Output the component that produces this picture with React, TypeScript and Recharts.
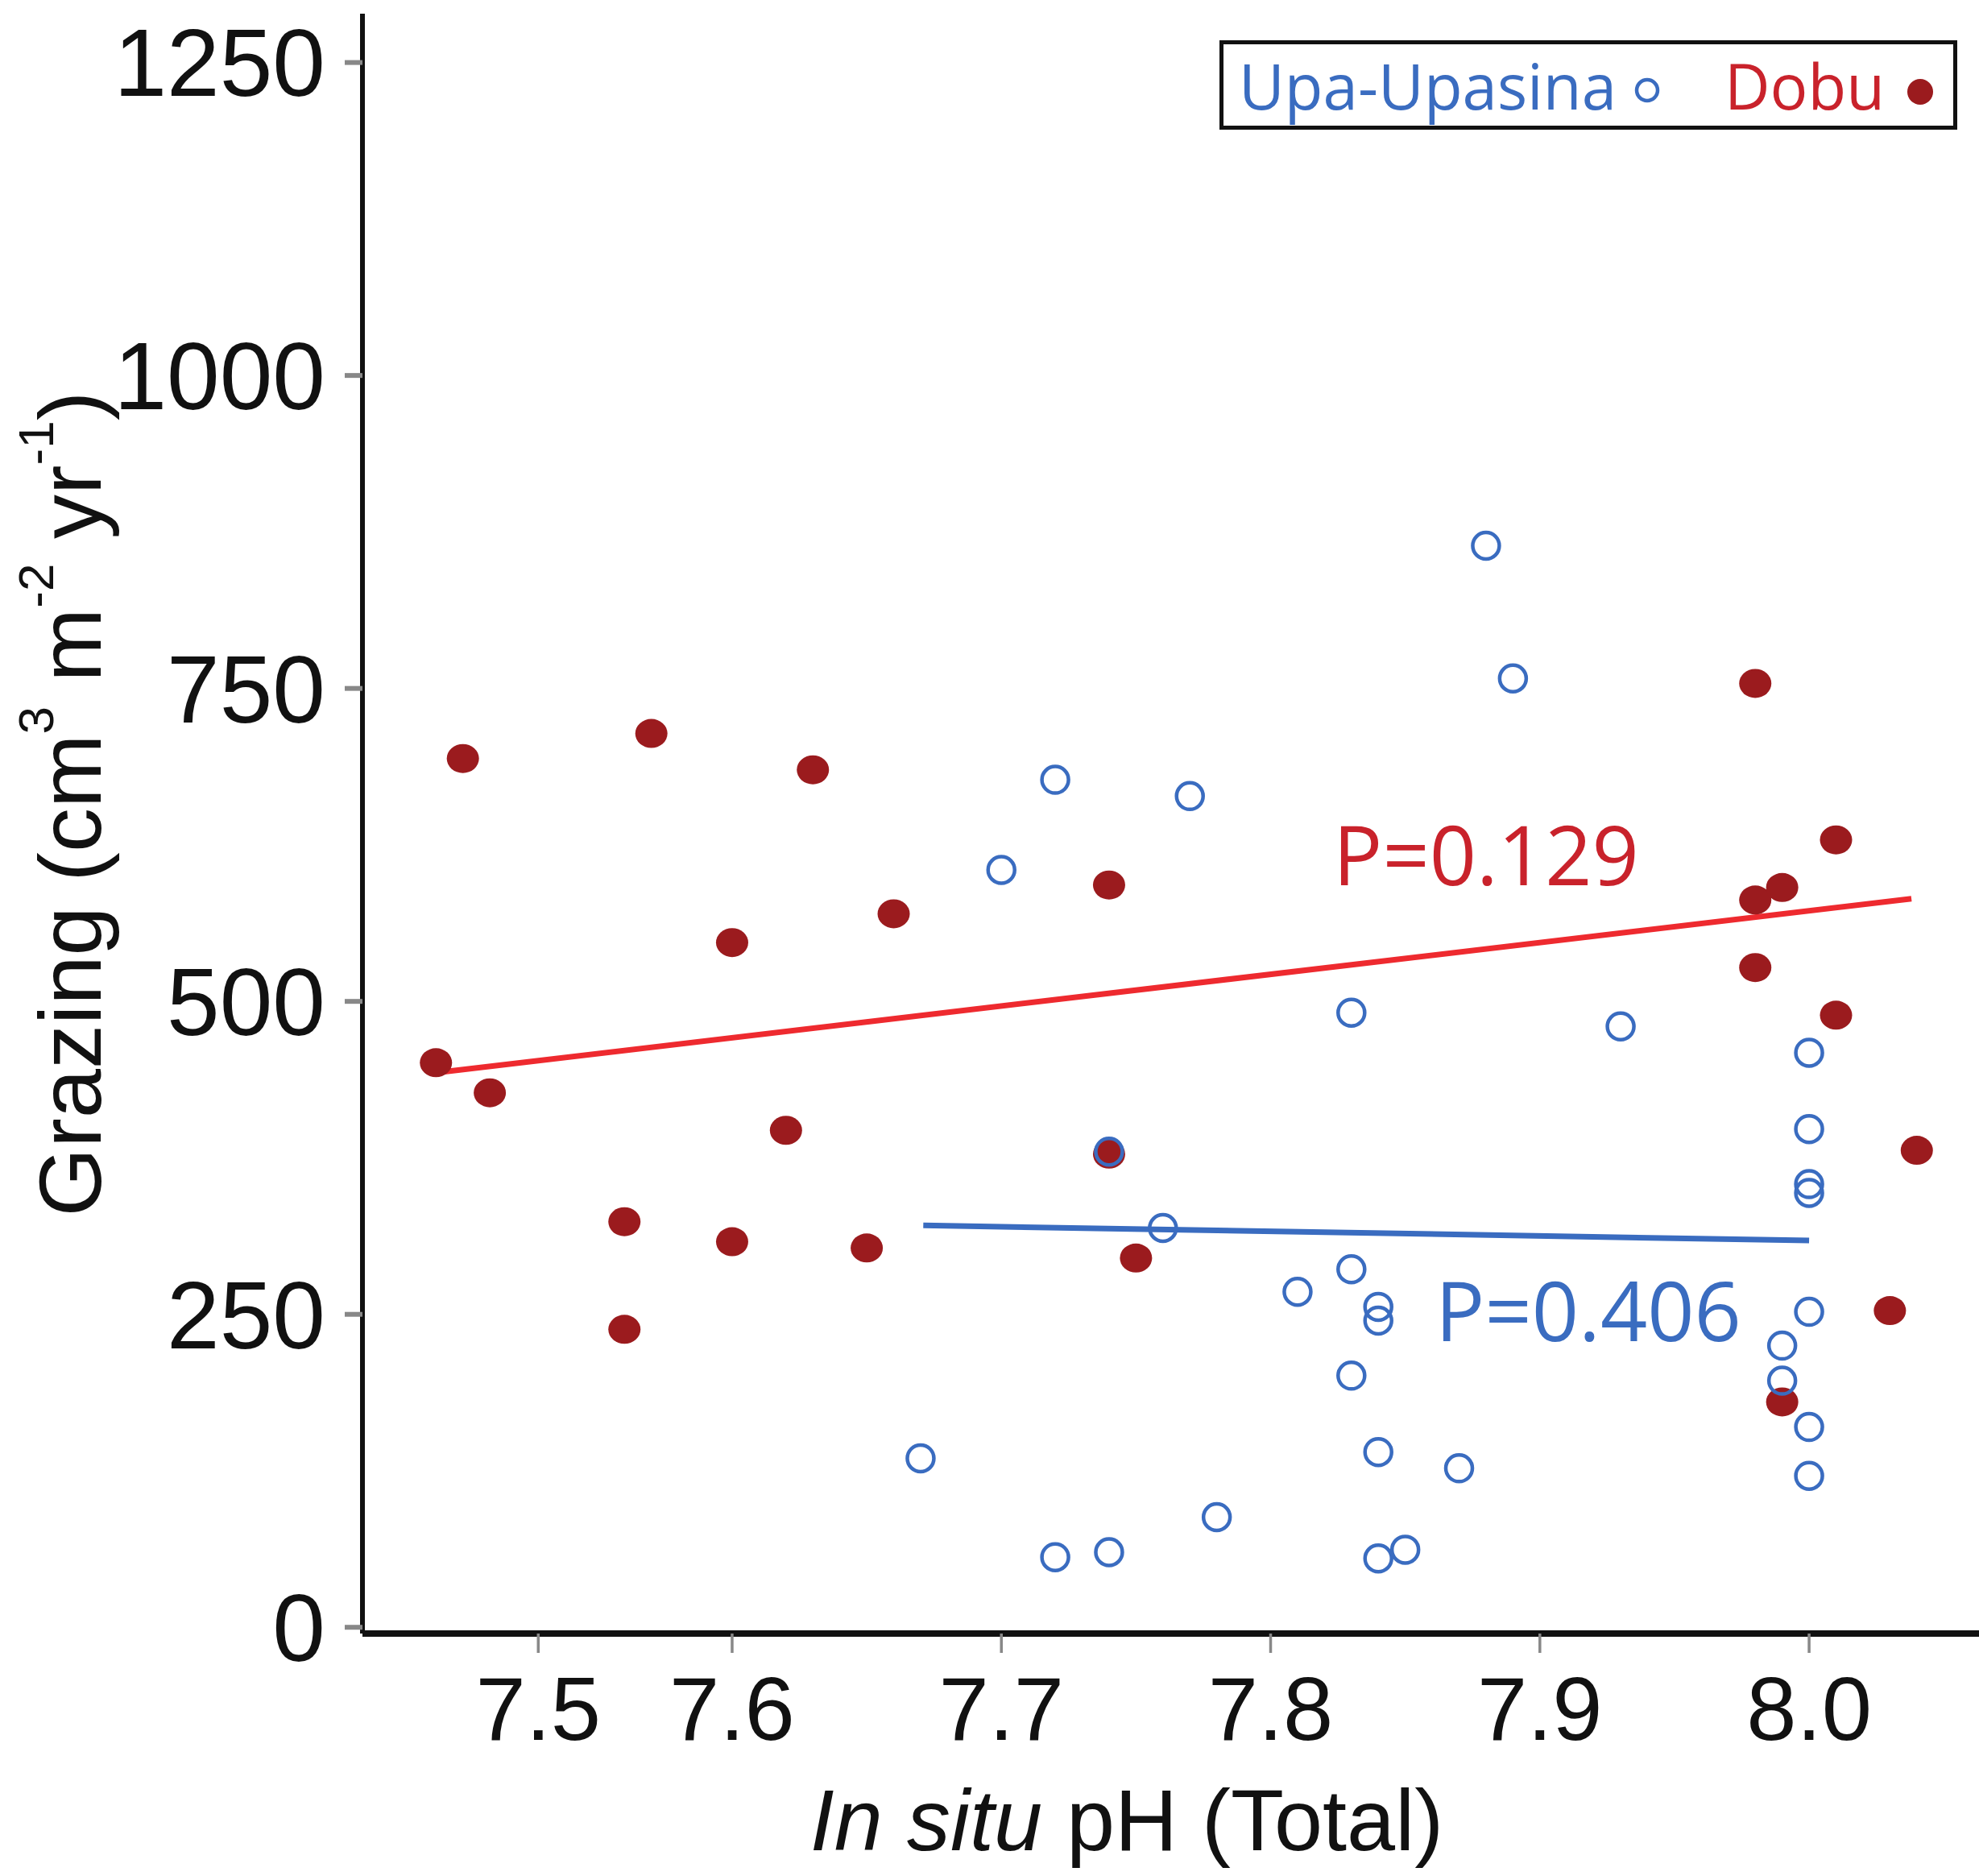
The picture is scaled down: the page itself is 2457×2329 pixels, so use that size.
import React from "react"
import { ComposedChart, Scatter, Line, XAxis, YAxis, Legend, ReferenceDot } from "recharts"

// Upa-Upasina (open circles)
const upaPh = [7.67, 7.72, 7.72, 7.70, 7.74, 7.74, 7.77, 7.76, 7.78, 7.81, 7.83, 7.83, 7.83, 7.84, 7.84, 7.84, 7.84, 7.85, 7.87, 7.88, 7.89, 7.93, 8.00, 8.00, 8.00, 8.00, 8.00, 7.99, 7.99, 8.00, 8.00]
const upaGrazing = [135, 56, 677, 605, 380, 60, 664, 319, 88, 268, 491, 286, 201, 256, 245, 140, 55, 62, 127, 864, 758, 480, 459, 398, 354, 347, 252, 225, 197, 160, 121]

// Dobu (filled dots)
const dobuPh = [7.49, 7.50, 7.51, 7.56, 7.56, 7.57, 7.60, 7.60, 7.62, 7.63, 7.65, 7.66, 7.74, 7.74, 7.75, 7.98, 7.98, 7.99, 7.98, 8.01, 8.01, 8.04, 8.03, 7.99]
const dobuGrazing = [451, 694, 427, 324, 238, 714, 547, 308, 397, 685, 303, 570, 593, 378, 295, 754, 581, 591, 527, 629, 489, 381, 253, 180]

// fitted lines, endpoints as drawn
const dobuFitPh = [7.49, 8.038]
const dobuFitGrazing = [443, 582]
const upaFitPh = [7.671, 8.0]
const upaFitGrazing = [321, 309]

// axis ticks (the 7.5 label sits off the regular spacing in the original)
const xTickValues = [7.528, 7.6, 7.7, 7.8, 7.9, 8.0]
const xTickLabels = ["7.5", "7.6", "7.7", "7.8", "7.9", "8.0"]
const yTicks = [0, 250, 500, 750, 1000, 1250]

// p-value annotations
const pLabels = ["P=0.129", "P=0.406"]
const pPh = [7.88, 7.918]
const pGrazing = [616, 252]

const BLUE = "#3a6cc0"
const DOT_RED = "#9b1b1e"
const LINE_RED = "#ee2a2f"
const TEXT_RED = "#c9222b"

const toPoints = (xs: number[], ys: number[]) => xs.map((ph, i) => ({ ph, g: ys[i] }))

const upaData = toPoints(upaPh, upaGrazing)
const dobuData = toPoints(dobuPh, dobuGrazing)
const dobuFit = toPoints(dobuFitPh, dobuFitGrazing)
const upaFit = toPoints(upaFitPh, upaFitGrazing)

const OpenCircle = (props: any) => (
  <circle cx={props.cx} cy={props.cy} r={16.5} fill="none" stroke={BLUE} strokeWidth={4.5} />
)

const FilledDot = (props: any) => (
  <ellipse cx={props.cx} cy={props.cy} rx={20} ry={18} fill={DOT_RED} />
)

const LegendBox = () => (
  <svg width={916} height={111} style={{ display: "block" }}>
    <rect x={2.5} y={2.5} width={911} height={106} fill="#fff" stroke="#111" strokeWidth={5} />
    <text x={24} y={86} fill={BLUE} fontSize={78} fontFamily="'Open Sans', sans-serif">
      Upa-Upasina
    </text>
    <circle cx={531} cy={62} r={13} fill="none" stroke={BLUE} strokeWidth={4.5} />
    <text x={627} y={86} fill={TEXT_RED} fontSize={78} fontFamily="'Open Sans', sans-serif">
      Dobu
    </text>
    <circle cx={870} cy={64} r={16} fill={DOT_RED} />
  </svg>
)

const YTitle = () => (
  <text
    x={86}
    y={998}
    transform="rotate(-90, 86, 998)"
    textAnchor="middle"
    dominantBaseline="central"
    fontSize={110}
    fontFamily="'Liberation Sans', Arial, sans-serif"
    fill="#111"
  >
    <tspan>Grazing (cm</tspan>
    <tspan fontSize={62} dy={-42}>3</tspan>
    <tspan dy={42}> m</tspan>
    <tspan fontSize={62} dy={-42}>-2</tspan>
    <tspan dy={42}> yr</tspan>
    <tspan fontSize={62} dy={-42}>-1</tspan>
    <tspan dy={42}>)</tspan>
  </text>
)

const XTitle = () => (
  <text x={1399} y={2297} textAnchor="middle" fontSize={108} fontFamily="'Liberation Sans', Arial, sans-serif" fill="#111">
    <tspan fontStyle="italic">In situ</tspan>
    <tspan> pH (Total)</tspan>
  </text>
)

export default function App() {
  return (
    <div style={{ position: "absolute", left: 0, top: 0, width: 2457, height: 2329, background: "#fff" }}>
      <ComposedChart width={2457} height={2329} margin={{ top: 17, right: 0, bottom: 0, left: 0 }}>
        <XAxis
          dataKey="ph"
          type="number"
          domain={[7.4627, 8.0631]}
          allowDataOverflow
          ticks={xTickValues}
          tickFormatter={(v: number) => xTickLabels[xTickValues.indexOf(v)] ?? ""}
          height={301}
          axisLine={{ stroke: "#111", strokeWidth: 8 }}
          tickLine={{ stroke: "#888", strokeWidth: 3.5 }}
          tickSize={24}
          tickMargin={28}
          tick={{ fill: "#111", fontSize: 112, fontFamily: "'Liberation Sans', Arial, sans-serif" }}
          label={<XTitle />}
        />
        <XAxis
          xAxisId="top"
          orientation="top"
          type="number"
          domain={[7.4627, 8.0631]}
          height={0}
          tick={false}
          tickLine={false}
          axisLine={{ stroke: "#111", strokeWidth: 5 }}
        />
        <YAxis
          type="number"
          domain={[-5, 1289]}
          allowDataOverflow
          ticks={yTicks}
          width={450}
          axisLine={{ stroke: "#111", strokeWidth: 6 }}
          tickLine={{ stroke: "#888", strokeWidth: 6 }}
          tickSize={22}
          tickMargin={24}
          tick={{ fill: "#111", fontSize: 118, fontFamily: "'Liberation Sans', Arial, sans-serif" }}
          label={<YTitle />}
        />
        <Legend
          layout="vertical"
          align="center"
          verticalAlign="middle"
          content={<LegendBox />}
          wrapperStyle={{ position: "absolute", left: 1514, top: 50, width: 916, height: 111 }}
        />
        <Scatter name="Dobu" data={dobuData} dataKey="g" shape={<FilledDot />} isAnimationActive={false} legendType="none" />
        <Scatter name="Upa-Upasina" data={upaData} dataKey="g" shape={<OpenCircle />} isAnimationActive={false} legendType="none" />
        <Line data={dobuFit} dataKey="g" type="linear" stroke={LINE_RED} strokeWidth={7} dot={false} activeDot={false} isAnimationActive={false} legendType="none" />
        <Line data={upaFit} dataKey="g" type="linear" stroke={BLUE} strokeWidth={7} dot={false} activeDot={false} isAnimationActive={false} legendType="none" />
        {pLabels.map((txt, i) => (
          <ReferenceDot
            key={txt}
            x={pPh[i]}
            y={pGrazing[i]}
            r={0}
            fill="none"
            stroke="none"
            label={{
              value: txt,
              position: "center",
              fill: i === 0 ? TEXT_RED : BLUE,
              fontSize: 102,
              fontFamily: "'Open Sans', sans-serif",
            }}
          />
        ))}
      </ComposedChart>
    </div>
  )
}
